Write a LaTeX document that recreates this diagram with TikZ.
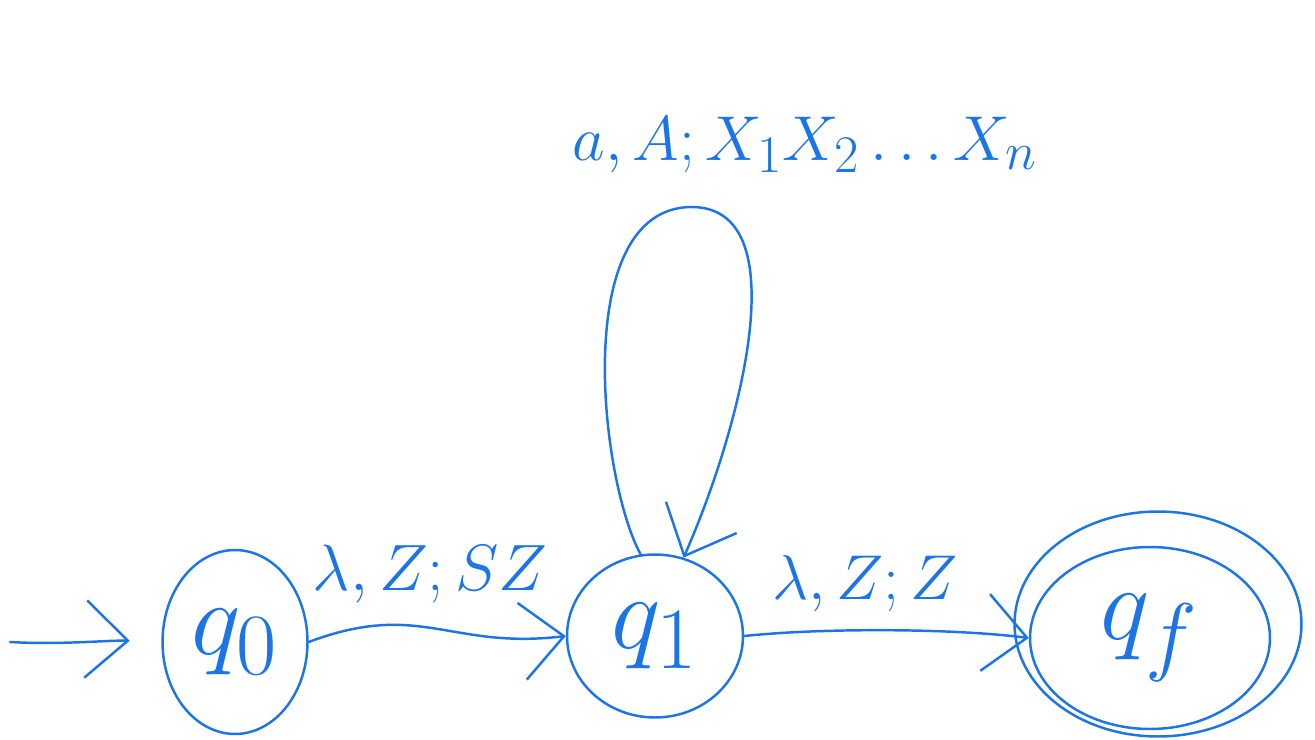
\documentclass[tikz,border=0pt]{standalone}
\usepackage{graphicx}
\usetikzlibrary{shapes.geometric,arrows.meta}
\definecolor{ink}{RGB}{28,117,230}
\begin{document}
\begin{tikzpicture}[x=0.02cm,y=-0.02cm,
  st/.style={ellipse,draw=ink,line width=1.4pt,inner sep=0pt,text=ink,font=\fontsize{24.88}{25}\selectfont},
  lab/.style={text=ink,inner sep=0pt,font=\fontsize{24.88}{25}\selectfont},
  arr/.style={draw=ink,line width=1.4pt,line cap=round,line join=round,-{Straight Barb[length=24pt,width=44pt,line width=1.4pt]}}]
\useasboundingbox (0,0) rectangle (1315,740);
\node[st,minimum width=2.9cm,minimum height=3.68cm] (q0) at (235,642) {\scalebox{2.4}{$q_0$}};
\node[st,minimum width=3.52cm,minimum height=3.26cm] (q1) at (655,636) {\scalebox{2.4}{$q_1$}};
\node[st,minimum width=5.74cm,minimum height=4.5cm] (qf) at (1158,624) {};
\node[st,minimum width=4.8cm,minimum height=3.64cm] (qfi) at (1150,638) {\scalebox{2.4}{$q_f$}};
\coordinate (s) at (10,642);
\draw[arr,shorten >=18pt] (s) .. controls (60,645) and (110,640) .. (q0.west);
\draw[arr] (q0.east) .. controls (420,600) and (450,650) .. (q1.west);
\draw[arr] (q1.east) .. controls (820,628) and (950,628) .. (qfi.west);
\draw[arr] (q1.100) .. controls (600,480) and (570,210) .. (690,207) .. controls (800,205) and (740,430) .. (q1.70);
\node[lab] (l01) at (430,574) {\scalebox{1.5}{$\lambda,Z;SZ$}};
\node[lab] (l1f) at (865,584) {\scalebox{1.45}{$\lambda,Z;Z$}};
\node[lab] (lloop) at (805,145) {\scalebox{1.45}{$a,A;X_1X_2\ldots X_n$}};
\end{tikzpicture}
\end{document}
